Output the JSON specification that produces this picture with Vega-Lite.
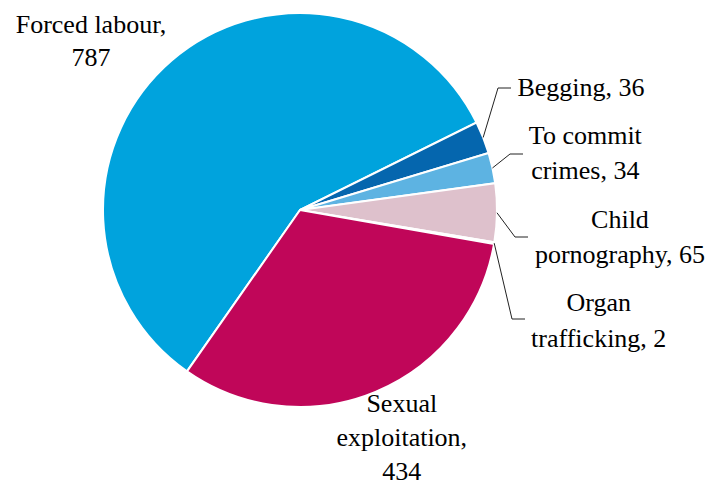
{
  "$schema": "https://vega.github.io/schema/vega-lite/v6.json",
  "width": 600,
  "height": 420,
  "autosize": "none",
  "padding": {"left": 0, "top": 0, "right": 112, "bottom": 64},
  "background": "white",
  "config": {"view": {"stroke": null}, "text": {"font": "Liberation Serif"}},
  "data": {
    "values": [
      {"cat": "Forced labour", "value": 787, "ord": 1, "label": "Forced labour,\n787"},
      {"cat": "Begging", "value": 36, "ord": 2, "label": "Begging, 36"},
      {"cat": "To commit crimes", "value": 34, "ord": 3, "label": "To commit\ncrimes, 34"},
      {"cat": "Child pornography", "value": 65, "ord": 4, "label": "Child\npornography, 65"},
      {"cat": "Organ trafficking", "value": 2, "ord": 5, "label": "Organ\ntrafficking, 2"},
      {"cat": "Sexual exploitation", "value": 434, "ord": 6, "label": "Sexual\nexploitation,\n434"}
    ]
  },
  "layer": [
    {
      "mark": {"type": "arc", "outerRadius": 197, "stroke": "white", "strokeWidth": 2},
      "encoding": {
        "theta": {"field": "value", "type": "quantitative", "stack": true, "scale": {"range": [3.7525, 10.0357]}},
        "order": {"field": "ord", "type": "quantitative"},
        "color": {
          "field": "cat", "type": "nominal", "legend": null,
          "scale": {
            "domain": ["Forced labour", "Begging", "To commit crimes", "Child pornography", "Organ trafficking", "Sexual exploitation"],
            "range": ["#00A3DD", "#0566AE", "#5DB3E2", "#DEC1CC", "#C8176A", "#C00659"]
          }
        }
      }
    },
    {
      "transform": [
        {"joinaggregate": [{"op": "sum", "field": "value", "as": "total"}]},
        {"window": [{"op": "sum", "field": "value", "as": "cum"}], "sort": [{"field": "ord"}], "frame": [null, 0]},
        {"calculate": "3.7525 + 2 * PI * (datum.cum - datum.value / 2) / datum.total", "as": "ang"},
        {"filter": "datum.ord >= 2 && datum.ord <= 5"},
        {"calculate": "197 * sin(datum.ang)", "as": "sx"},
        {"calculate": "-197 * cos(datum.ang)", "as": "sy"},
        {"calculate": "datum.ord == 2 ? 198 : datum.ord == 3 ? 210 : datum.ord == 4 ? 215 : 212", "as": "ex"},
        {"calculate": "datum.ord == 2 ? -122 : datum.ord == 3 ? -56 : datum.ord == 4 ? 27 : 109", "as": "ey"}
      ],
      "layer": [
        {
          "mark": {"type": "rule", "color": "#222222", "strokeWidth": 1},
          "encoding": {
            "x": {"field": "sx", "type": "quantitative", "scale": {"domain": [-300, 300]}, "axis": null},
            "y": {"field": "sy", "type": "quantitative", "scale": {"domain": [-210, 210], "reverse": true}, "axis": null},
            "x2": {"field": "ex"},
            "y2": {"field": "ey"}
          }
        },
        {
          "transform": [{"calculate": "datum.ex + 13", "as": "ex2"}],
          "mark": {"type": "rule", "color": "#222222", "strokeWidth": 1},
          "encoding": {
            "x": {"field": "ex", "type": "quantitative", "scale": {"domain": [-300, 300]}, "axis": null},
            "y": {"field": "ey", "type": "quantitative", "scale": {"domain": [-210, 210], "reverse": true}, "axis": null},
            "x2": {"field": "ex2"}
          }
        }
      ]
    },
    {
      "mark": {"type": "text", "font": "Liberation Serif", "radius": 270, "dx": -33, "dy": 19.5, "fontSize": 26, "lineHeight": 33, "lineBreak": "\n", "align": "center", "baseline": "middle", "color": "black"},
      "encoding": {
        "theta": {"field": "value", "type": "quantitative", "stack": true, "scale": {"range": [3.7525, 10.0357]}},
        "order": {"field": "ord", "type": "quantitative"},
        "text": {"condition": {"test": "datum.ord == 1", "field": "label"}, "value": ""}
      }
    },
    {
      "mark": {"type": "text", "font": "Liberation Serif", "radius": 300, "dx": 2, "dy": -12, "fontSize": 26, "lineBreak": "\n", "align": "center", "baseline": "middle", "color": "black"},
      "encoding": {
        "theta": {"field": "value", "type": "quantitative", "stack": true, "scale": {"range": [3.7525, 10.0357]}},
        "order": {"field": "ord", "type": "quantitative"},
        "text": {"condition": {"test": "datum.ord == 2", "field": "label"}, "value": ""}
      }
    },
    {
      "mark": {"type": "text", "font": "Liberation Serif", "radius": 290, "dx": 2, "dy": -12.5, "fontSize": 26, "lineHeight": 35, "lineBreak": "\n", "align": "center", "baseline": "middle", "color": "black"},
      "encoding": {
        "theta": {"field": "value", "type": "quantitative", "stack": true, "scale": {"range": [3.7525, 10.0357]}},
        "order": {"field": "ord", "type": "quantitative"},
        "text": {"condition": {"test": "datum.ord == 3", "field": "label"}, "value": ""}
      }
    },
    {
      "mark": {"type": "text", "font": "Liberation Serif", "radius": 320, "dx": 0, "dy": 5.5, "fontSize": 26, "lineHeight": 35, "lineBreak": "\n", "align": "center", "baseline": "middle", "color": "black"},
      "encoding": {
        "theta": {"field": "value", "type": "quantitative", "stack": true, "scale": {"range": [3.7525, 10.0357]}},
        "order": {"field": "ord", "type": "quantitative"},
        "text": {"condition": {"test": "datum.ord == 4", "field": "label"}, "value": ""}
      }
    },
    {
      "mark": {"type": "text", "font": "Liberation Serif", "radius": 300, "dx": 3, "dy": 43, "fontSize": 26, "lineHeight": 36, "lineBreak": "\n", "align": "center", "baseline": "middle", "color": "black"},
      "encoding": {
        "theta": {"field": "value", "type": "quantitative", "stack": true, "scale": {"range": [3.7525, 10.0357]}},
        "order": {"field": "ord", "type": "quantitative"},
        "text": {"condition": {"test": "datum.ord == 5", "field": "label"}, "value": ""}
      }
    },
    {
      "mark": {"type": "text", "font": "Liberation Serif", "radius": 250, "dx": 6, "dy": -37, "fontSize": 26, "lineHeight": 34, "lineBreak": "\n", "align": "center", "baseline": "middle", "color": "black"},
      "encoding": {
        "theta": {"field": "value", "type": "quantitative", "stack": true, "scale": {"range": [3.7525, 10.0357]}},
        "order": {"field": "ord", "type": "quantitative"},
        "text": {"condition": {"test": "datum.ord == 6", "field": "label"}, "value": ""}
      }
    }
  ]
}
